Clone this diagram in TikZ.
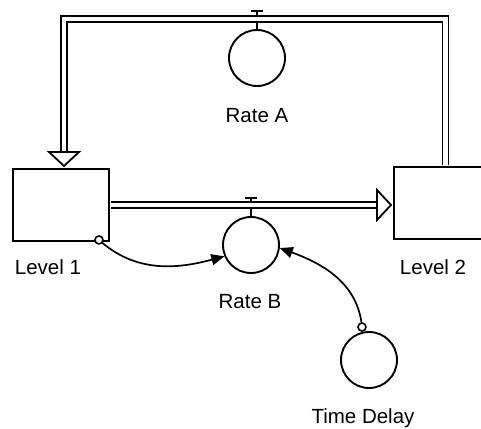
\documentclass[tikz,border=0pt]{standalone}
\usepackage{fontspec}
\setmainfont{Liberation Sans}
\usetikzlibrary{arrows.meta,calc}
\begin{document}
\begin{tikzpicture}[
    x=1pt, y=1pt,
    every node/.style={font=\fontsize{20.5}{24}\selectfont},
    stock/.style={draw, line width=1.9pt, minimum width=96pt, minimum height=72pt, inner sep=0pt},
    flowrate/.style={draw, circle, line width=1.9pt, minimum size=56pt, inner sep=0pt},
    caption/.style={anchor=base, inner sep=0pt},
    pipe/.style={double, double distance=4.2pt, line width=1.8pt, shorten <=0.9pt},
    pipehead/.style={draw, fill=white, line width=1.8pt, line join=miter},
    valve/.style={line width=1.9pt},
    link/.style={line width=1.7pt, -{Triangle[length=13pt, width=11pt]}},
    linkstart/.style={draw, fill=white, line width=1.6pt}
  ]
  \useasboundingbox (0,0) rectangle (481,428);

  % stocks and rates
  \node[stock] (level1) at (61,223) {};
  \node[stock] (level2) at (442,225) {};
  \node[flowrate] (rateA) at (257,370) {};
  \node[flowrate] (rateB) at (251,183) {};
  \node[flowrate] (delay) at (369,68) {};

  \node[caption] (level1lbl) at (48,153) {Level 1};
  \node[caption] (level2lbl) at (433,153) {Level 2};
  \node[caption] (rateAlbl) at (257,305) {Rate A};
  \node[caption] (rateBlbl) at (250,119) {Rate B};
  \node[caption] (delaylbl) at (363,5) {Time Delay};

  % valves
  \draw[valve] (rateA.north) -- ++(0,18) coordinate (barA);
  \draw[valve] ($(barA)+(-6,0)$) -- ($(barA)+(6,0)$);
  \draw[valve] (rateB.north) -- ++(0,18) coordinate (barB);
  \draw[valve] ($(barB)+(-6,0)$) -- ($(barB)+(6,0)$);

  % flows
  \coordinate (tipA) at (64,262);
  \coordinate (tipB) at (391,223);
  \draw[pipe] ($(level2.north)+(3.5,0)$) |- ($(tipA)+(0,147)$) -- ($(tipA)+(0,14)$);
  \draw[pipehead] ($(tipA)+(-15,14)$) -- ($(tipA)+(15,14)$) -- (tipA) -- cycle;
  \draw[pipe] (level1.east) -- ($(tipB)+(-14,0)$);
  \draw[pipehead] ($(tipB)+(-14,15)$) -- ($(tipB)+(-14,-15)$) -- (tipB) -- cycle;

  % links
  \coordinate (src1) at ($(level1.south east)+(-11,2)$);
  \coordinate (src2) at ($(delay.north)+(-7,4)$);
  \draw[link] (src1) to[out=-42, in=195] (rateB.203);
  \draw[linkstart] (src1) circle (4);
  \draw[link] (src2) to[out=95, in=-20] (rateB.-6);
  \draw[linkstart] (src2) circle (4);
\end{tikzpicture}
\end{document}
